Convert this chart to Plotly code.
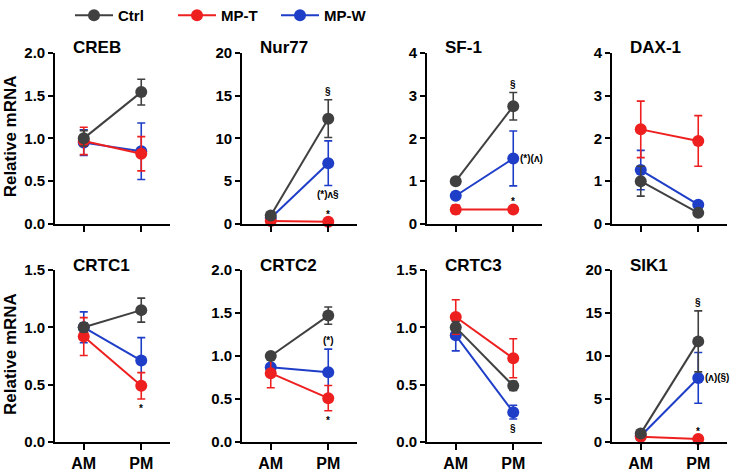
import plotly.graph_objects as go

panels = ["CREB", "Nur77", "SF-1", "DAX-1", "CRTC1", "CRTC2", "CRTC3", "SIK1"]
times = ["AM", "PM"]
y_max = [2.0, 20, 4, 4, 1.5, 2.0, 1.5, 20]
y_dtick = [0.5, 5, 1, 1, 0.5, 0.5, 0.5, 5]
y_fmt = [".1f", "d", "d", "d", ".1f", ".1f", ".1f", "d"]

ctrl_mean = [[1.0, 1.54], [1.0, 12.3], [1.0, 2.75], [1.0, 0.26],
             [1.0, 1.15], [1.0, 1.47], [1.0, 0.49], [1.0, 11.7]]
ctrl_err = [[0.09, 0.15], [0.3, 2.2], [0.06, 0.32], [0.35, 0.05],
            [0.04, 0.105], [0.03, 0.1], [0.05, 0.04], [0.3, 3.55]]
mpt_mean = [[0.97, 0.82], [0.35, 0.25], [0.34, 0.34], [2.21, 1.94],
            [0.92, 0.49], [0.80, 0.51], [1.09, 0.73], [0.6, 0.35]]
mpt_err = [[0.16, 0.2], [0.1, 0.08], [0.1, 0.04], [0.66, 0.59],
           [0.165, 0.115], [0.17, 0.147], [0.15, 0.17], [0.1, 0.1]]
mpw_mean = [[0.95, 0.85], [0.7, 7.1], [0.66, 1.53], [1.26, 0.45],
            [1.0, 0.71], [0.87, 0.81], [0.93, 0.26], [0.7, 7.45]]
mpw_err = [[0.15, 0.33], [0.2, 2.6], [0.05, 0.64], [0.46, 0.05],
           [0.135, 0.2], [0.03, 0.27], [0.135, 0.06], [0.15, 2.95]]

series_names = ["Ctrl", "MP-T", "MP-W"]
series_colors = {"Ctrl": "#404040", "MP-T": "#ee1f1f", "MP-W": "#1f3ec8"}
series_data = {"Ctrl": (ctrl_mean, ctrl_err), "MP-T": (mpt_mean, mpt_err), "MP-W": (mpw_mean, mpw_err)}

# significance marks: (panel index, series, time index, text, placement)
sig_marks = [
    (1, "Ctrl", 1, "§", "above"),
    (1, "MP-W", 1, "(*)ʌ§", "below"),
    (1, "MP-T", 1, "*", "above"),
    (2, "Ctrl", 1, "§", "above"),
    (2, "MP-W", 1, "(*)(ʌ)", "right"),
    (2, "MP-T", 1, "*", "above"),
    (4, "MP-T", 1, "*", "below"),
    (5, "MP-W", 1, "(*)", "above"),
    (5, "MP-T", 1, "*", "below"),
    (6, "MP-W", 1, "§", "below"),
    (7, "Ctrl", 1, "§", "above"),
    (7, "MP-W", 1, "(ʌ)(§)", "right"),
    (7, "MP-T", 1, "*", "above"),
]

W, H = 738, 472
FONT = "Liberation Sans, Arial, sans-serif"
col_x0 = [55, 242, 427, 612]
plot_w = 115
row_y = [(52.7, 224), (270, 442)]

fig = go.Figure()
layout = dict()
draw_order = ["MP-W", "MP-T", "Ctrl"]
annotations = []

for i, name in enumerate(panels):
    r, c = divmod(i, 4)
    ax = "" if i == 0 else str(i + 1)
    xd = [col_x0[c] / W, (col_x0[c] + plot_w) / W]
    yd = [1 - row_y[r][1] / H, 1 - row_y[r][0] / H]
    for s in draw_order:
        mean, err = series_data[s]
        fig.add_trace(go.Scatter(
            x=[0, 1], y=mean[i], mode="lines+markers", name=s,
            legendgroup=s, showlegend=(i == 0),
            line=dict(color=series_colors[s], width=2),
            marker=dict(color=series_colors[s], size=12),
            error_y=dict(type="data", array=err[i], color=series_colors[s], thickness=1.6, width=4),
            cliponaxis=False,
            xaxis="x" + ax, yaxis="y" + ax,
        ))
    layout["xaxis" + ax] = dict(
        domain=xd, range=[-0.5, 1.5], tickvals=[0, 1], ticktext=times,
        showticklabels=(r == 1), showline=True, linecolor="black", linewidth=1.6,
        ticks="outside", ticklen=6, tickwidth=1.6, tickcolor="black",
        showgrid=False, zeroline=False, anchor="y" + ax, fixedrange=True,
        tickfont=dict(family=FONT, size=16, color="black", weight="bold"),
    )
    layout["yaxis" + ax] = dict(
        domain=yd, range=[0, y_max[i]], dtick=y_dtick[i], tick0=0, tickformat=y_fmt[i],
        showline=True, linecolor="black", linewidth=1.6,
        ticks="outside", ticklen=5, tickwidth=1.6, tickcolor="black",
        showgrid=False, zeroline=False, anchor="x" + ax, fixedrange=True,
        tickfont=dict(family=FONT, size=15, color="black", weight="bold"),
    )
    annotations.append(dict(
        text=name, xref="paper", yref="paper", x=(col_x0[c] + 16) / W,
        y=1 - (row_y[r][0] - 5) / H, xanchor="left", yanchor="middle", showarrow=False,
        font=dict(family=FONT, size=17, color="black", weight="bold"),
    ))

for (i, s, t, txt, place) in sig_marks:
    ax = "" if i == 0 else str(i + 1)
    mean, err = series_data[s]
    m, e = mean[i][t], err[i][t]
    a = dict(text=txt, xref="x" + ax, yref="y" + ax, x=t, showarrow=False,
             font=dict(family=FONT, size=10, color="black", weight="bold"))
    if place == "above":
        a.update(y=m + e, yanchor="bottom", yshift=1 if e > 0.2 * y_max[i] / 20 else -1)
    elif place == "below":
        a.update(y=m - e, yanchor="top", yshift=-2)
    else:
        a.update(y=m, xanchor="left", yanchor="middle", xshift=5)
    annotations.append(a)

for r in range(2):
    annotations.append(dict(
        text="Relative mRNA", xref="paper", yref="paper", x=10 / W,
        y=1 - (row_y[r][0] + row_y[r][1]) / 2 / H + 2 / H, textangle=-90,
        xanchor="center", yanchor="middle", showarrow=False,
        font=dict(family=FONT, size=17, color="black", weight="bold"),
    ))

fig.update_layout(
    **layout,
    annotations=annotations,
    width=W, height=H,
    margin=dict(l=0, r=0, t=0, b=0, autoexpand=False),
    plot_bgcolor="white", paper_bgcolor="white",
    showlegend=True,
    legend=dict(orientation="h", x=70 / W, y=1.0 + 1 / H, xanchor="left", yanchor="top",
                traceorder="normal", entrywidth=50, entrywidthmode="pixels", itemwidth=38,
                font=dict(family=FONT, size=15, color="black", weight="bold"),
                itemclick=False, itemdoubleclick=False),
)

# reorder legend: Ctrl, MP-T, MP-W
rank = {"Ctrl": 1, "MP-T": 2, "MP-W": 3}
for tr in fig.data:
    tr.legendrank = rank[tr.name]

fig.write_html("out.html", config={"displayModeBar": False, "staticPlot": False},
               post_script="document.body.style.margin='0';document.body.style.overflow='hidden';")
